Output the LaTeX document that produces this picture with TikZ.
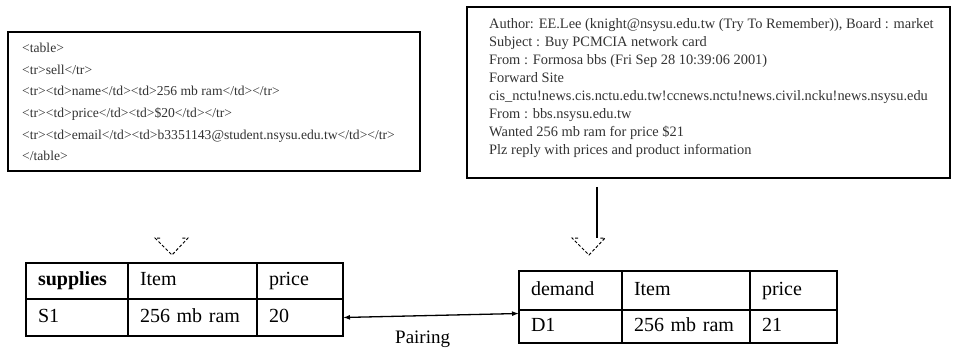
\documentclass[tikz,border=0pt]{standalone}
\usepackage{fontspec}
\setmainfont{Liberation Serif}
\usetikzlibrary{arrows.meta}
\begin{document}
\begin{tikzpicture}[x=1pt,y=-1pt,
  frame/.style={draw, line width=2.6pt, inner sep=0pt, outer sep=0pt, anchor=north west},
  msg/.style={anchor=north west, inner sep=0pt, align=left, text=black!80},
  cell/.style n args={3}{draw, line width=2.6pt, anchor=north west, inner xsep=12pt,
    inner ysep=0pt, outer sep=0pt, minimum width=#1, text width=#2, minimum height=#3,
    text height=13pt, text depth=4pt, align=left, font=\fontsize{20}{24}\selectfont},
  openhead/.style={line width=1pt, dash pattern=on 3pt off 2pt},
  link/.style={line width=1.3pt, {Latex[length=7pt,width=5pt]}-{Latex[length=7pt,width=5pt]}},
]
\useasboundingbox (0,0) rectangle (954,350);
\fill[white] (0,0) rectangle (954,350);

% source documents
\node[frame, minimum width=412pt, minimum height=139pt] (srcL) at (8,32) {};
\node[msg, font=\fontsize{13.6}{21.6}\selectfont] (srcLtext) at (22,43)
  {<table>\\
   <tr>sell</tr>\\
   <tr><td>name</td><td>256 mb ram</td></tr>\\
   <tr><td>price</td><td>\$20</td></tr>\\
   <tr><td>email</td><td>b3351143@student.nsysu.edu.tw</td></tr>\\
   </table>};

\node[frame, minimum width=483pt, minimum height=171pt] (srcR) at (467,7) {};
\node[msg, font=\fontsize{14.4}{18}\selectfont] (srcRtext) at (489,18)
  {Author: EE.Lee (knight@nsysu.edu.tw (Try To Remember)), Board : market\\
   Subject : Buy PCMCIA network card\\
   From : Formosa bbs (Fri Sep 28 10:39:06 2001)\\
   Forward Site\\
   cis\_nctu!news.cis.nctu.edu.tw!ccnews.nctu!news.civil.ncku!news.nsysu.edu\\
   From : bbs.nsysu.edu.tw\\
   Wanted 256 mb ram for price \$21\\
   Plz reply with prices and product information};

% supply table
\node[cell={102pt}{78pt}{36pt}, font=\bfseries\fontsize{20}{24}\selectfont] (sh1) at (26,263) {supplies};
\node[cell={129pt}{105pt}{36pt}] (sh2) at (128,263) {Item};
\node[cell={86pt}{62pt}{36pt}] (sh3) at (257,263) {price};
\node[cell={102pt}{78pt}{37pt}] (s1) at (26,299) {S1};
\node[cell={129pt}{105pt}{37pt}] (s2) at (128,299) {256 mb ram};
\node[cell={86pt}{62pt}{37pt}] (s3) at (257,299) {20};

% demand table
\node[cell={103pt}{79pt}{39pt}] (dh1) at (519,271) {demand};
\node[cell={128pt}{104pt}{39pt}] (dh2) at (622,271) {Item};
\node[cell={87pt}{63pt}{39pt}] (dh3) at (750,271) {price};
\node[cell={103pt}{79pt}{33pt}] (d1) at (519,310) {D1};
\node[cell={128pt}{104pt}{33pt}] (d2) at (622,310) {256 mb ram};
\node[cell={87pt}{63pt}{33pt}] (d3) at (750,310) {21};

% extraction arrows
\coordinate (headL) at (172,255);
\draw[openhead] ([shift={(-12,-17)}]headL) -- ([shift={(-17,-17)}]headL) -- (headL)
  -- ([shift={(16,-17)}]headL) -- ([shift={(10,-17)}]headL);

\coordinate (dropTop) at (597,187);
\coordinate (headR) at (589,255);
\draw[line width=1.4pt] (dropTop) -- ([yshift=17pt]headR -| dropTop);
\draw[openhead] ([shift={(-11,-17)}]headR) -- ([shift={(-17,-17)}]headR) -- (headR)
  -- ([shift={(16,-17)}]headR) -- ([shift={(10,-17)}]headR);

% pairing link
\draw[link] (s3.east) -- ([yshift=13pt]d1.west);
\node[anchor=north west, inner sep=0pt, font=\fontsize{19}{23}\selectfont] (pairlbl) at (395,331) {Pairing};
\end{tikzpicture}
\end{document}
